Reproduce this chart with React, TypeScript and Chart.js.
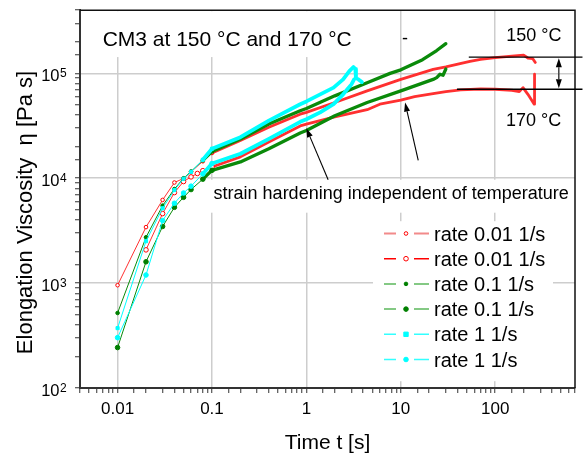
import React, { useEffect, useRef } from 'react';
import { Chart, registerables } from 'chart.js';

Chart.register(...registerables);

const FONT = '"Liberation Sans", Arial, Helvetica, sans-serif';

// ---------- data: time t [s] and elongation viscosity [Pa s] ----------
const red150Time = [0.01, 0.02, 0.03, 0.04, 0.05, 0.06, 0.08, 0.1, 0.2, 0.4, 0.86, 1, 2, 4.4, 10, 22, 30, 54, 70, 100, 150, 200, 222, 250, 266];
const red150Visc = [955, 3420, 6210, 9100, 9960, 11500, 14500, 17400, 22900, 30600, 40800, 42500, 52700, 68100, 87500, 109000, 115000, 130000, 136000, 141000, 146000, 149000, 140000, 138000, 127000];

const red170Time = [0.02, 0.03, 0.04, 0.05, 0.06, 0.07, 0.08, 0.1, 0.2, 0.4, 0.86, 1, 2, 4.4, 6, 10, 14, 22, 30, 43, 70, 100, 150, 180, 197, 222, 259, 261];
const red170Visc = [2075, 4600, 7300, 9300, 10300, 11100, 11800, 12800, 16000, 22100, 31500, 32800, 38500, 45000, 50800, 55500, 60000, 64100, 67000, 69500, 70900, 70500, 69000, 67000, 73100, 63100, 50800, 98000];

const green150Time = [0.01, 0.02, 0.03, 0.04, 0.05, 0.06, 0.08, 0.1, 0.2, 0.4, 0.86, 1, 2, 4.4, 7.7, 10, 17, 24, 30];
const green150Visc = [519, 2735, 5480, 7890, 10000, 11600, 14800, 18000, 23700, 32900, 44000, 46200, 61000, 81500, 100000, 108000, 135000, 165000, 192000];

const green170Time = [0.01, 0.02, 0.03, 0.04, 0.05, 0.06, 0.08, 0.1, 0.2, 0.4, 0.86, 1, 2, 4.4, 10, 22, 24, 26, 28, 30];
const green170Visc = [243, 1597, 3470, 5280, 6580, 7800, 9800, 11900, 14300, 19100, 27000, 28500, 39400, 52700, 68100, 87500, 91000, 98000, 95800, 110000];

const cyan150Time = [0.01, 0.02, 0.03, 0.04, 0.05, 0.06, 0.08, 0.1, 0.2, 0.4, 0.86, 1, 1.4, 1.94, 2.45, 2.85, 3.15, 3.3, 3.35, 3.56, 3.87];
const cyan150Visc = [372, 2508, 5170, 7710, 9900, 11500, 15000, 19100, 24600, 35400, 50800, 54000, 63100, 73100, 87500, 105000, 115000, 110000, 90000, 87500, 82600];

const cyan170Time = [0.01, 0.02, 0.03, 0.04, 0.05, 0.06, 0.08, 0.1, 0.2, 0.4, 0.86, 1, 1.4, 1.94, 2.45, 3, 3.2];
const cyan170Visc = [302, 1195, 3950, 5770, 7230, 8400, 11000, 13800, 17100, 23700, 34500, 36500, 42500, 50800, 63100, 78500, 87500];

const seriesLabels = ['rate 0.01 1/s', 'rate 0.01 1/s', 'rate 0.1 1/s', 'rate 0.1 1/s', 'rate 1 1/s', 'rate 1 1/s'];

// ---------- axes ----------
const xMin = 0.004;
const xMax = 700;
const yMin = 100;
const yMax = 400000;
const xTickValues = [0.01, 0.1, 1, 10, 100];
const xTickLabels = ['0.01', '0.1', '1', '10', '100'];
const yTickValues = [100, 1000, 10000, 100000];
const yTickBase = '10';
const yTickExponents = ['2', '3', '4', '5'];
const xTitle = 'Time t [s]';
const yTitle = 'Elongation Viscosity  \u03b7 [Pa s]';

// ---------- annotations (anchored in data coordinates) ----------
const titleText = 'CM3 at 150 \u00b0C and 170 \u00b0C';
const titleAnchor = [0.00695, 182000];
const label150 = '150 \u00b0C';
const label150Anchor = [131, 205000];
const label170 = '170 \u00b0C';
const label170Anchor = [130, 31300];
const hardeningText = 'strain hardening independent of temperature';
const hardeningAnchor = [0.104, 6380];
const dashText = '-';
const dashAnchor = [11.1, 190000];
const arrow1 = [1.7, 9660, 1.0, 29900];
const arrow2 = [15.3, 14800, 11.1, 52700];
const level150 = [52.5, 840, 142600];
const level170 = [39.3, 840, 70500];
const gapArrowTime = 472;

// ---------- styles ----------
const seriesColors = ['#ff0000', '#ff0000', '#008000', '#008000', '#00ffff', '#00ffff'];
const bandColors = ['#ff3030', '#ff3030', '#0a8a0a', '#0a8a0a', '#00ffff', '#00ffff'];
const legendLineColors = ['#f28a8a', '#ff0000', '#5cb85c', '#5cb85c', '#33ffff', '#33ffff'];
const pointStyles = ['circle', 'circle', 'circle', 'circle', 'rect', 'circle'];
const pointRadii = [1.8, 2.3, 1.8, 2.3, 2.2, 2.3];
const hollowPoints = [true, true, false, false, false, false];
const bandWidths = [2.8, 2.8, 3.3, 3.3, 3.8, 3.8];
const bandStart = [0.09, 0.09, 0.075, 0.075, 0.07, 0.07];
const drawOrder = [3, 3, 2, 2, 1, 1];
const GRID = '#cdcdcd';

const isMajor = (v: number) => {
  const l = Math.log10(v);
  return Math.abs(l - Math.round(l)) < 1e-6;
};

function drawArrow(ctx: CanvasRenderingContext2D, x0: number, y0: number, x1: number, y1: number) {
  const head = 9;
  const half = 3;
  const a = Math.atan2(y1 - y0, x1 - x0);
  const bx = x1 - head * Math.cos(a);
  const by = y1 - head * Math.sin(a);
  ctx.beginPath();
  ctx.moveTo(x0, y0);
  ctx.lineTo(bx, by);
  ctx.stroke();
  ctx.beginPath();
  ctx.moveTo(x1, y1);
  ctx.lineTo(bx + half * Math.sin(a), by - half * Math.cos(a));
  ctx.lineTo(bx - half * Math.sin(a), by + half * Math.cos(a));
  ctx.closePath();
  ctx.fill();
}

function drawMarker(ctx: CanvasRenderingContext2D, i: number, x: number, y: number) {
  const r = pointRadii[i];
  ctx.save();
  ctx.fillStyle = hollowPoints[i] ? '#ffffff' : seriesColors[i];
  ctx.strokeStyle = seriesColors[i];
  ctx.lineWidth = 1;
  ctx.beginPath();
  if (pointStyles[i] === 'rect') {
    ctx.rect(x - r, y - r, 2 * r, 2 * r);
  } else {
    ctx.arc(x, y, r, 0, Math.PI * 2);
  }
  ctx.fill();
  ctx.stroke();
  ctx.restore();
}

const overlayPlugin = {
  id: 'overlay',
  beforeDatasetsDraw(chart: any) {
    const { ctx, chartArea } = chart;
    const xs = chart.scales.x;
    const ys = chart.scales.y;
    ctx.save();
    ctx.fillStyle = '#ffffff';
    ctx.font = `21px ${FONT}`;
    const tx = xs.getPixelForValue(titleAnchor[0]);
    const ty = ys.getPixelForValue(titleAnchor[1]);
    const tw = ctx.measureText(titleText).width;
    ctx.fillRect(tx - 12, chartArea.top + 1, tw + 24, ty + 10 - chartArea.top);
    const hx = xs.getPixelForValue(hardeningAnchor[0]);
    const hy = ys.getPixelForValue(hardeningAnchor[1]);
    ctx.fillRect(hx - 8, hy - 19, chartArea.right - hx + 10, 33);
    ctx.fillRect(chartArea.left + 293, chartArea.top + 211, 180, 160);
    ctx.restore();
  },
  afterDraw(chart: any) {
    const { ctx, chartArea } = chart;
    const xs = chart.scales.x;
    const ys = chart.scales.y;
    ctx.save();

    ctx.strokeStyle = '#111';
    ctx.lineWidth = 1.5;
    ctx.beginPath();
    ctx.moveTo(chartArea.left, chartArea.top);
    ctx.lineTo(chartArea.right, chartArea.top);
    ctx.lineTo(chartArea.right, chartArea.bottom);
    ctx.stroke();

    ctx.fillStyle = '#000';
    yTickValues.forEach((v, i) => {
      const py = ys.getPixelForValue(v);
      ctx.font = `16.5px ${FONT}`;
      ctx.textAlign = 'right';
      ctx.textBaseline = 'alphabetic';
      ctx.fillText(yTickBase, chartArea.left - 20.5, py + 7.7);
      ctx.font = `12px ${FONT}`;
      ctx.textAlign = 'left';
      ctx.fillText(yTickExponents[i], chartArea.left - 20, py + 3.7);
    });

    ctx.font = `21px ${FONT}`;
    ctx.textAlign = 'center';
    ctx.textBaseline = 'alphabetic';
    ctx.fillText(xTitle, (chartArea.left + chartArea.right) / 2, chartArea.bottom + 61);
    ctx.save();
    ctx.translate(31.5, 212.5);
    ctx.rotate(-Math.PI / 2);
    ctx.font = `22px ${FONT}`;
    ctx.fillText(yTitle, 0, 0);
    ctx.restore();

    ctx.textAlign = 'left';
    ctx.font = `21px ${FONT}`;
    ctx.fillText(titleText, xs.getPixelForValue(titleAnchor[0]), ys.getPixelForValue(titleAnchor[1]));
    ctx.font = `18px ${FONT}`;
    ctx.fillText(label150, xs.getPixelForValue(label150Anchor[0]), ys.getPixelForValue(label150Anchor[1]));
    ctx.fillText(label170, xs.getPixelForValue(label170Anchor[0]), ys.getPixelForValue(label170Anchor[1]));
    ctx.fillText(hardeningText, xs.getPixelForValue(hardeningAnchor[0]), ys.getPixelForValue(hardeningAnchor[1]));
    ctx.textAlign = 'center';
    ctx.fillText(dashText, xs.getPixelForValue(dashAnchor[0]), ys.getPixelForValue(dashAnchor[1]));

    ctx.strokeStyle = '#000';
    ctx.fillStyle = '#000';
    ctx.lineWidth = 1.3;
    [level150, level170].forEach((l) => {
      const py = ys.getPixelForValue(l[2]);
      ctx.beginPath();
      ctx.moveTo(xs.getPixelForValue(l[0]), py);
      ctx.lineTo(xs.getPixelForValue(l[1]), py);
      ctx.stroke();
    });
    ctx.lineWidth = 1.1;
    const gx = xs.getPixelForValue(gapArrowTime);
    const gTop = ys.getPixelForValue(level150[2]);
    const gBot = ys.getPixelForValue(level170[2]);
    const gMid = (gTop + gBot) / 2;
    drawArrow(ctx, gx, gMid, gx, gTop + 1);
    drawArrow(ctx, gx, gMid, gx, gBot - 1);
    [arrow1, arrow2].forEach((a) => {
      drawArrow(ctx, xs.getPixelForValue(a[0]), ys.getPixelForValue(a[1]), xs.getPixelForValue(a[2]), ys.getPixelForValue(a[3]));
    });

    const lx = chartArea.left + 304;
    const ly = chartArea.top + 223.3;
    seriesLabels.forEach((lab, i) => {
      const y = ly + i * 25.2;
      ctx.strokeStyle = legendLineColors[i];
      ctx.lineWidth = i === 0 ? 2 : 1.5;
      ctx.beginPath();
      ctx.moveTo(lx, y);
      ctx.lineTo(lx + 12, y);
      ctx.moveTo(lx + 30, y);
      ctx.lineTo(lx + 45, y);
      ctx.stroke();
      drawMarker(ctx, i, lx + 22, y);
      ctx.fillStyle = '#000';
      ctx.font = `20px ${FONT}`;
      ctx.textAlign = 'left';
      ctx.textBaseline = 'alphabetic';
      ctx.fillText(lab, lx + 50, y + 7);
    });

    ctx.restore();
  },
};

const seriesTimes = [red150Time, red170Time, green150Time, green170Time, cyan150Time, cyan170Time];
const seriesVisc = [red150Visc, red170Visc, green150Visc, green170Visc, cyan150Visc, cyan170Visc];

export default function App() {
  const ref = useRef<HTMLCanvasElement>(null);

  useEffect(() => {
    document.body.style.margin = '0';
    const datasets = seriesTimes.map((times, i) => ({
      label: seriesLabels[i],
      data: times.map((t, k) => ({ x: t, y: seriesVisc[i][k] })),
      borderColor: bandColors[i],
      backgroundColor: seriesColors[i],
      borderWidth: 1,
      tension: 0,
      borderJoinStyle: 'round' as const,
      borderCapStyle: 'round' as const,
      order: drawOrder[i],
      pointStyle: pointStyles[i],
      pointRadius: (c: any) => (c.raw && c.raw.x <= 0.1 ? pointRadii[i] : 0),
      pointBorderWidth: 1,
      pointBorderColor: seriesColors[i],
      pointBackgroundColor: hollowPoints[i] ? '#ffffff' : seriesColors[i],
      segment: {
        borderWidth: (c: any) => (c.p0.parsed.x >= bandStart[i] ? bandWidths[i] : 1),
      },
    }));

    const gridColor = (c: any) => (c.tick && isMajor(c.tick.value) ? GRID : 'rgba(0,0,0,0)');

    const chart = new Chart(ref.current as HTMLCanvasElement, {
      type: 'line',
      data: { datasets },
      options: {
        animation: false,
        responsive: false,
        events: [],
        layout: { padding: { top: 6, right: 10, left: 0, bottom: 0 } },
        plugins: {
          legend: { display: false },
          tooltip: { enabled: false },
          title: { display: false },
        },
        scales: {
          x: {
            type: 'logarithmic',
            min: xMin,
            max: xMax,
            position: 'bottom',
            afterFit: (s: any) => {
              s.height = 70;
            },
            grid: {
              color: gridColor,
              lineWidth: 1.5,
              tickColor: '#333',
              tickLength: 5,
              tickWidth: 1,
            },
            border: { display: true, color: '#333', width: 2 },
            ticks: {
              autoSkip: false,
              maxRotation: 0,
              padding: 6,
              color: '#000',
              font: { family: FONT, size: 17 },
              callback: (v: any) => {
                const i = xTickValues.findIndex((t) => Math.abs(t - v) / t < 1e-6);
                return i >= 0 ? xTickLabels[i] : '';
              },
            },
          },
          y: {
            type: 'logarithmic',
            min: yMin,
            max: yMax,
            afterFit: (s: any) => {
              s.width = 80;
            },
            grid: {
              color: gridColor,
              lineWidth: 1.5,
              tickColor: '#333',
              tickLength: 5,
              tickWidth: 1,
            },
            border: { display: true, color: '#333', width: 2 },
            ticks: {
              autoSkip: false,
              callback: () => '',
            },
          },
        },
      },
      plugins: [overlayPlugin],
    } as any);

    return () => chart.destroy();
  }, []);

  return (
    <div style={{ position: 'absolute', left: 0, top: 0, width: 585, height: 458, background: '#fff' }}>
      <canvas ref={ref} width={585} height={458} style={{ width: 585, height: 458, display: 'block' }} />
    </div>
  );
}
